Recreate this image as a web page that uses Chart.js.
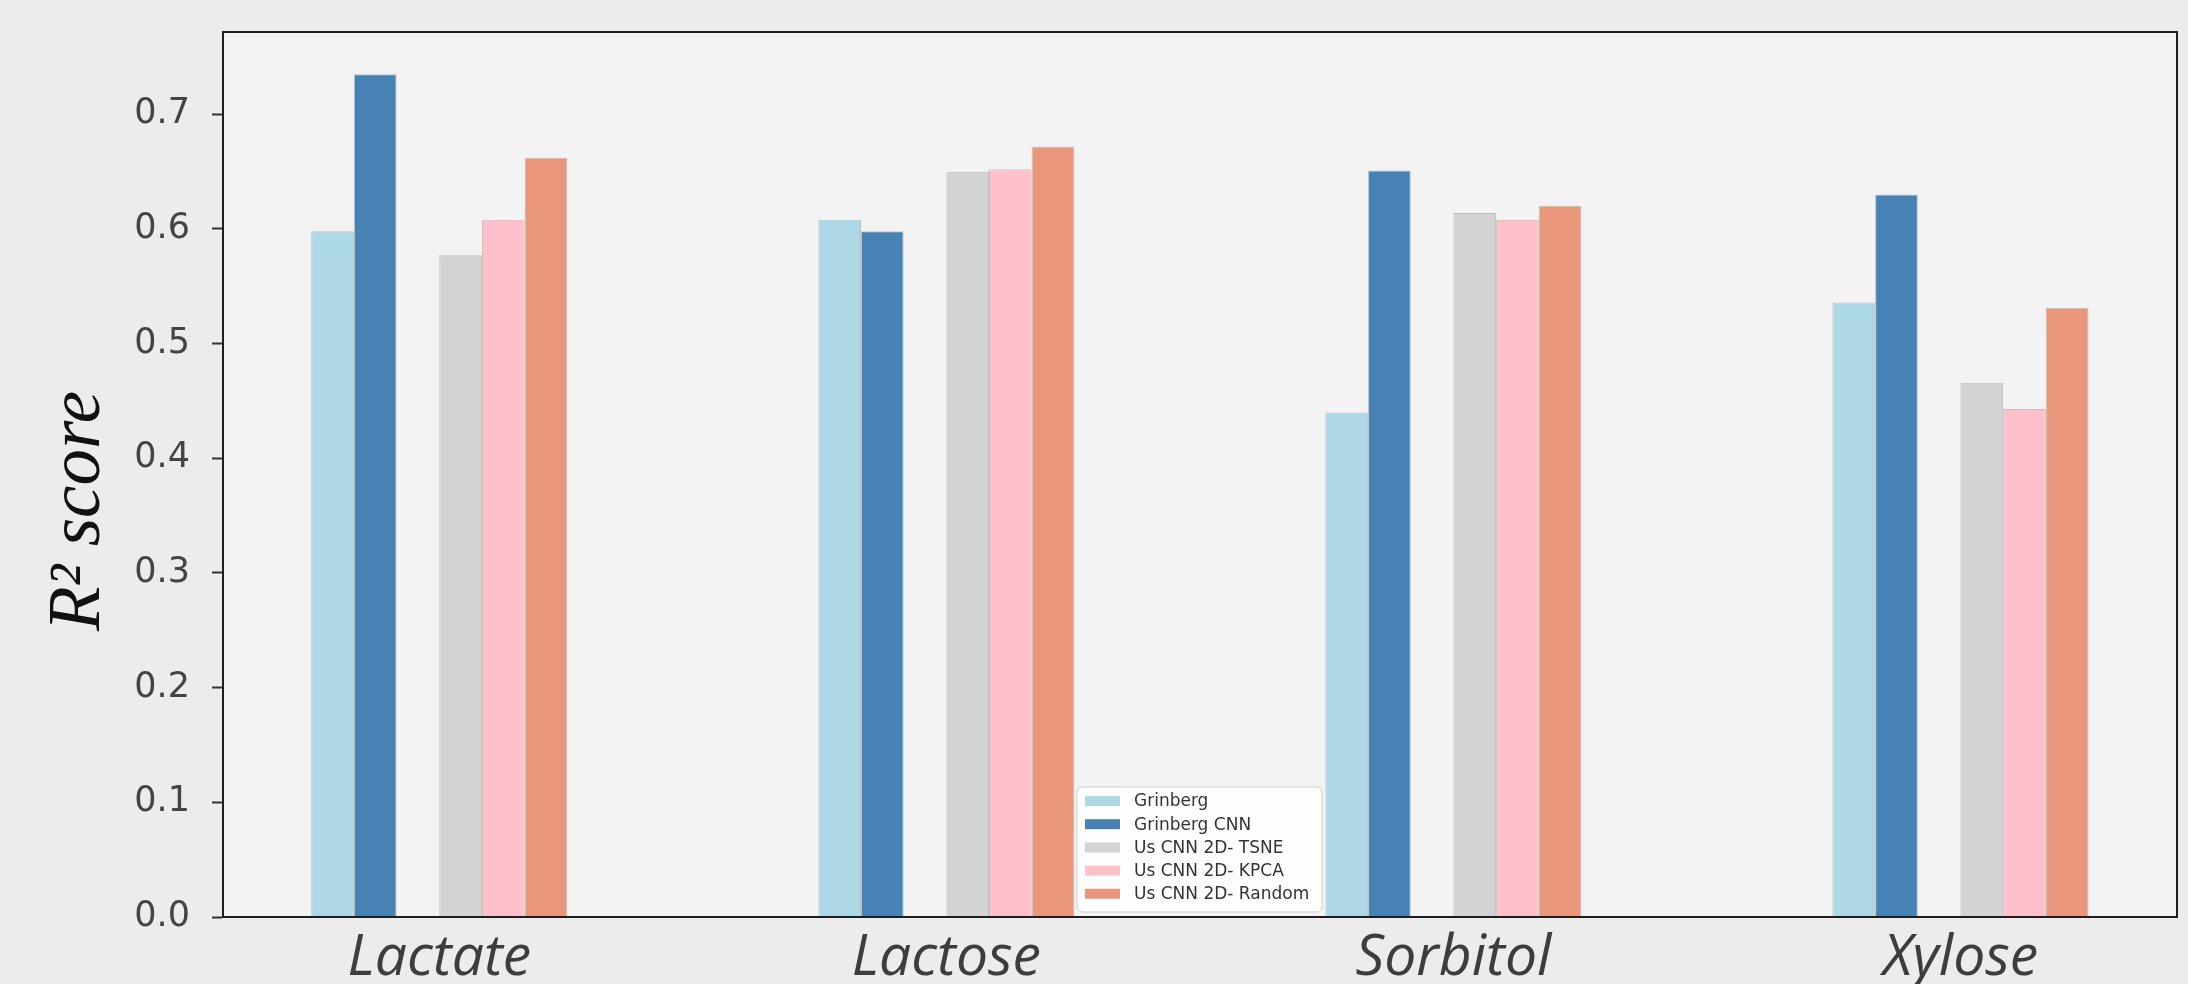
<!DOCTYPE html>
<html lang="en">
<head>
    <meta charset="UTF-8">
    <title>R2 score per sugar</title>
    <script src="https://cdn.jsdelivr.net/npm/chart.js@4.4.0/dist/chart.umd.min.js"></script>
    <style>
        body{
            margin: 0;
            background-color: #ececec;
        }
        #chartBox{
            width: 2188px;
            height: 984px;
        }
    </style>
</head>
<body>
    <div id="chartBox"><canvas id="scoreChart"></canvas></div>
    <script>
        // values
        var categories = ['Lactate', 'Lactose', 'Sorbitol', 'Xylose'];
        var seriesNames = ['Grinberg', 'Grinberg CNN', '', 'Us CNN 2D- TSNE', 'Us CNN 2D- KPCA', 'Us CNN 2D- Random'];
        var grinberg = [0.598, 0.608, 0.440, 0.536];
        var grinbergCnn = [0.735, 0.598, 0.651, 0.630];
        var emptySlot = [null, null, null, null];
        var cnnTsne = [0.577, 0.650, 0.614, 0.466];
        var cnnKpca = [0.608, 0.652, 0.608, 0.443];
        var cnnRandom = [0.662, 0.672, 0.620, 0.531];
        var yTicks = [0, 0.1, 0.2, 0.3, 0.4, 0.5, 0.6, 0.7];
        var colors = ['#ADD8E6', '#4682B4', 'rgba(0,0,0,0)', '#D3D3D3', '#FFC0CB', '#E9967A'];

        var allSeries = [grinberg, grinbergCnn, emptySlot, cnnTsne, cnnKpca, cnnRandom];

        function toPoints(values) {
            return values.map(function(v, i) { return {x: i, y: v}; });
        }

        var datasets = allSeries.map(function(values, k) {
            return {
                label: seriesNames[k],
                data: toPoints(values),
                backgroundColor: colors[k],
                borderColor: 'rgba(150,150,150,0.55)',
                borderWidth: seriesNames[k] ? 1 : 0
            };
        });

        var backgroundPlugin = {
            id: 'backgroundPlugin',
            beforeDraw: function(chart) {
                var ctx = chart.ctx;
                var a = chart.chartArea;
                ctx.save();
                ctx.fillStyle = '#ececec';
                ctx.fillRect(0, 0, chart.width, chart.height);
                ctx.fillStyle = '#f3f3f3';
                ctx.fillRect(a.left, a.top, a.right - a.left, a.bottom - a.top);
                ctx.restore();
            },
            afterDatasetsDraw: function(chart) {
                var ctx = chart.ctx;
                var a = chart.chartArea;
                ctx.save();
                ctx.strokeStyle = '#1e1e1e';
                ctx.lineWidth = 2;
                ctx.strokeRect(a.left, a.top, a.right - a.left, a.bottom - a.top);
                ctx.restore();
            }
        };

        // boxed legend sitting inside the plot, bottom centre
        var boxLegend = {
            id: 'boxLegend',
            afterDraw: function(chart) {
                var ctx = chart.ctx;
                var x = 1077, y = 787, w = 245, h = 125, r = 5;
                ctx.save();
                ctx.beginPath();
                ctx.roundRect(x, y, w, h, r);
                ctx.fillStyle = 'rgba(255,255,255,0.85)';
                ctx.fill();
                ctx.strokeStyle = '#cfcfcf';
                ctx.lineWidth = 1;
                ctx.stroke();
                ctx.font = '17px "DejaVu Sans"';
                ctx.textBaseline = 'middle';
                var row = 0;
                chart.data.datasets.forEach(function(ds) {
                    if (!ds.label) return;
                    var cy = y + 14 + row * 23.2;
                    ctx.fillStyle = ds.backgroundColor;
                    ctx.fillRect(x + 8, cy - 5, 35, 10);
                    ctx.fillStyle = '#333333';
                    ctx.fillText(ds.label, x + 57, cy + 1);
                    row++;
                });
                ctx.restore();
            }
        };

        var ctx = document.getElementById('scoreChart').getContext('2d');
        var scoreChart = new Chart(ctx, {
            type: 'bar',
            data: {datasets: datasets},
            options: {
                responsive: true,
                maintainAspectRatio: false,
                animation: false,
                layout: {padding: {top: 32, right: 11, left: 0, bottom: 0}},
                datasets: {
                    bar: {categoryPercentage: 0.505, barPercentage: 1.0}
                },
                scales: {
                    x: {
                        type: 'linear',
                        offset: false,
                        min: -0.4265,
                        max: 3.427,
                        grid: {display: false},
                        border: {display: false},
                        afterFit: function(scale) {
                            scale.height = 67;
                            scale.paddingLeft = 0;
                            scale.paddingRight = 0;
                        },
                        afterBuildTicks: function(scale) {
                            scale.ticks = categories.map(function(c, i) { return {value: i}; });
                        },
                        ticks: {
                            padding: 0,
                            maxRotation: 0,
                            autoSkip: false,
                            color: '#3d3d3d',
                            font: {family: 'Open Sans', style: 'italic', size: 57},
                            callback: function(value) { return categories[value]; }
                        }
                    },
                    y: {
                        min: 0,
                        max: 0.7718,
                        afterFit: function(scale) {
                            scale.width = 223;
                            scale.paddingTop = 0;
                            scale.paddingBottom = 0;
                        },
                        afterBuildTicks: function(scale) {
                            scale.ticks = yTicks.map(function(v) { return {value: v}; });
                        },
                        grid: {
                            drawOnChartArea: false,
                            drawTicks: true,
                            tickLength: 11,
                            tickWidth: 2,
                            tickColor: '#333333'
                        },
                        border: {display: true, color: '#1e1e1e', width: 2},
                        ticks: {
                            padding: 22,
                            color: '#444444',
                            font: {family: 'DejaVu Sans', size: 35},
                            callback: function(value) { return value.toFixed(1); }
                        },
                        title: {
                            display: true,
                            // two en spaces push the visible text a little lower, as in the figure
                            text: 'R\u00B2 score\u2002\u2002',
                            color: '#111111',
                            padding: {top: 36, bottom: 0},
                            font: {family: 'Liberation Serif', style: 'italic', size: 73}
                        }
                    }
                },
                plugins: {
                    legend: {display: false},
                    tooltip: {enabled: false}
                }
            },
            plugins: [backgroundPlugin, boxLegend]
        });
    </script>
</body>
</html>
